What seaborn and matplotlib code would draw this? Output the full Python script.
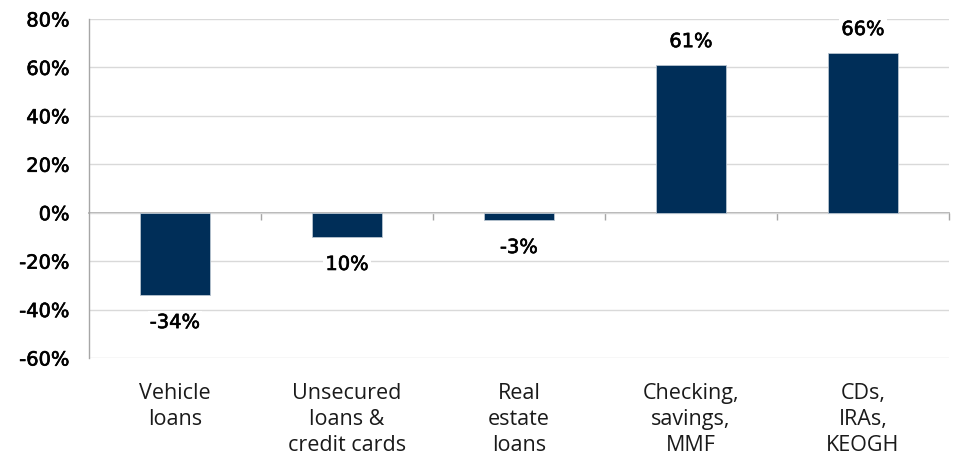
import matplotlib
matplotlib.use("Agg")
import matplotlib.pyplot as plt
import matplotlib.patheffects as pe
import seaborn as sns
import pandas as pd
from matplotlib.ticker import FuncFormatter

categories = ["Vehicle\nloans", "Unsecured\nloans &\ncredit cards", "Real\nestate\nloans",
              "Checking,\nsavings,\nMMF", "CDs,\nIRAs,\nKEOGH"]
values = [-34, -10, -3, 61, 66]
value_labels = ["-34%", "10%", "-3%", "61%", "66%"]
y_ticks = [-60, -40, -20, 0, 20, 40, 60, 80]

sns.set_theme(style="white")
plt.rcParams['font.family'] = ['Open Sans', 'DejaVu Sans']

df = pd.DataFrame({"cat": categories, "val": values})

fig = plt.figure(figsize=(9.56, 4.54), dpi=100)
ax = fig.add_axes([89/956, 1-358/454, (949-89)/956, (358-19)/454])

bar_color = "#002E58"
sns.barplot(data=df, x="cat", y="val", color=bar_color, width=0.41,
            edgecolor="#b8c4d0", linewidth=0.6, ax=ax, saturation=1)

ax.set_ylim(-60, 80)
ax.set_xlim(-0.5, len(categories) - 0.5)
ax.set_yticks(y_ticks)
ax.yaxis.set_major_formatter(FuncFormatter(lambda v, p: f"{int(v)}%"))
ax.yaxis.grid(True, color="#d9d9d9", linewidth=1)
ax.set_axisbelow(True)
ax.set_xlabel("")
ax.set_ylabel("")

for s in ["top", "right", "bottom"]:
    ax.spines[s].set_visible(False)
ax.spines["left"].set_color("#a6a6a6")
ax.spines["left"].set_linewidth(1)

thick = [pe.withStroke(linewidth=0.45, foreground="#000000")]

ax.tick_params(axis="y", which="major", direction="out", length=5, width=1,
               color="#a6a6a6", pad=9, labelsize=14, labelcolor="#000000")
for t in ax.get_yticklabels():
    t.set_fontfamily(["DejaVu Sans"])
    t.set_path_effects(thick)

ax.tick_params(axis="x", length=0, pad=18, labelsize=15.5, labelcolor="#1a1a1a")
for t in ax.get_xticklabels():
    t.set_linespacing(1.3)
    t.set_va("top")

# zero axis line with boundary ticks
sec = ax.secondary_xaxis(60 / 140)
sec.set_xticks([i - 0.5 for i in range(1, len(categories) + 1)])
sec.set_xticklabels([])
sec.tick_params(direction="out", length=5, width=1, color="#a6a6a6")
sec.spines["bottom"].set_color("#a6a6a6")
sec.spines["bottom"].set_linewidth(1.2)

for i, (v, lab) in enumerate(zip(values, value_labels)):
    common = dict(ha="center", fontsize=14, color="#000000",
                  family=["DejaVu Sans"], textcoords="offset points",
                  path_effects=thick,
                  bbox=dict(boxstyle="square,pad=0.1", fc="white", ec="none"))
    if v >= 0:
        ax.annotate(lab, (i, v), xytext=(0, 10), va="bottom", **common)
    else:
        ax.annotate(lab, (i, v), xytext=(0, -13), va="top", **common)

fig.savefig("out.png", dpi=100)
